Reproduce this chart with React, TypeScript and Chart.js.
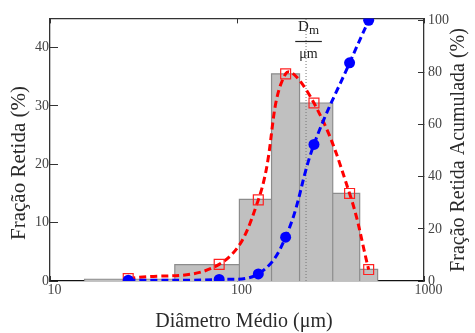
import React, { useEffect, useRef } from 'react';
import { Chart, registerables } from 'chart.js';

Chart.register(...registerables);

// Sieve bins (µm) and retained fraction per bin (%)
const binEdges = [15.3, 46.5, 103, 153, 216, 325, 453, 565];
const binHeights = [0.3, 2.8, 14.0, 35.5, 30.5, 15.0, 2.0];
// Mean diameters of each class (µm)
const meanDiameters = [26.2, 80.3, 130, 182, 258, 400, 506];
// Fração retida (%)
const fractionRetained = [0.4, 2.85, 13.9, 35.5, 30.5, 15.0, 1.96];
// Fração retida acumulada (%)
const cumulativeRetained = [0.3, 0.6, 2.7, 16.8, 52.4, 83.7, 100];
// Mean diameter Dm (µm)
const dmValue = 234;

const xTicks = [10, 100, 1000];
const leftTicks = [0, 10, 20, 30, 40];
const rightTicks = [0, 20, 40, 60, 80, 100];

const SERIF = '"Liberation Serif", "Times New Roman", serif';

const annotations = {
  id: 'annotations',
  afterDraw(chart: any) {
    const ctx = chart.ctx as CanvasRenderingContext2D;
    const xs = chart.scales.x;
    const px = xs.getPixelForValue(dmValue);
    const cx = px + 2.5;
    ctx.save();
    ctx.fillStyle = '#222';
    // D_m
    ctx.textBaseline = 'alphabetic';
    ctx.textAlign = 'left';
    ctx.font = `15px ${SERIF}`;
    const wD = ctx.measureText('D').width;
    ctx.font = `13px ${SERIF}`;
    const wm = ctx.measureText('m').width;
    const start = cx - (wD + wm) / 2;
    ctx.font = `15px ${SERIF}`;
    ctx.fillText('D', start, 30.5);
    ctx.font = `13px ${SERIF}`;
    ctx.fillText('m', start + wD, 34);
    // fraction bar
    ctx.strokeStyle = '#222';
    ctx.lineWidth = 1.2;
    ctx.beginPath();
    ctx.moveTo(cx - 13.3, 41.5);
    ctx.lineTo(cx + 13.3, 41.5);
    ctx.stroke();
    // µm
    ctx.textAlign = 'center';
    ctx.font = `14px ${SERIF}`;
    ctx.fillText('\u03bcm', cx, 57.5);

    // axis titles
    ctx.fillStyle = '#2a2a2a';
    ctx.textBaseline = 'middle';
    ctx.textAlign = 'center';
    ctx.font = `20px ${SERIF}`;
    ctx.fillText('Di\u00e2metro M\u00e9dio (\u03bcm)', 244, 321.5);

    ctx.save();
    ctx.translate(19, 163);
    ctx.rotate(-Math.PI / 2);
    ctx.font = `21px ${SERIF}`;
    ctx.fillText('Fra\u00e7\u00e3o Retida (%)', 0, 0);
    ctx.restore();

    ctx.save();
    ctx.translate(459, 150);
    ctx.rotate(-Math.PI / 2);
    ctx.font = `20px ${SERIF}`;
    ctx.fillText('Fra\u00e7\u00e3o Retida Acumulada (%)', 0, 0);
    ctx.restore();

    ctx.restore();
  },
};

export default function App() {
  const ref = useRef<HTMLCanvasElement | null>(null);

  useEffect(() => {
    if (!ref.current) return;
    const histPoints: { x: number; y: number }[] = [];
    binHeights.forEach((h, i) => {
      const a = binEdges[i];
      const b = binEdges[i + 1];
      histPoints.push({ x: a, y: 0 }, { x: a, y: h }, { x: b, y: h }, { x: b, y: 0 });
    });

    const tickFont = { family: SERIF, size: 14 };
    const axisColor = '#333';

    const chart = new Chart(ref.current, {
      type: 'line',
      data: {
        datasets: [
          {
            label: 'Acumulada',
            data: meanDiameters.map((x, i) => ({ x, y: cumulativeRetained[i] })),
            xAxisID: 'x',
            yAxisID: 'y2',
            borderColor: '#0000ff',
            borderWidth: 3,
            borderDash: [7, 4],
            tension: 0.4,
            fill: false,
            pointStyle: 'circle',
            pointRadius: 5.5,
            pointBackgroundColor: '#0000ff',
            pointBorderColor: '#0000ff',
            pointBorderWidth: 0,
            order: 1,
          },
          {
            label: 'Retida',
            data: meanDiameters.map((x, i) => ({ x, y: fractionRetained[i] })),
            xAxisID: 'x',
            yAxisID: 'y',
            borderColor: '#ff0000',
            borderWidth: 3,
            borderDash: [7, 4],
            tension: 0.4,
            fill: false,
            pointStyle: 'rect',
            pointRadius: 7,
            pointBackgroundColor: 'rgba(0,0,0,0)',
            pointBorderColor: '#ff2020',
            pointBorderWidth: 1.2,
            order: 2,
          },
          {
            label: 'Dm',
            data: [
              { x: dmValue, y: 0 },
              { x: dmValue, y: 45 },
            ],
            xAxisID: 'x',
            yAxisID: 'y',
            borderColor: '#777',
            borderWidth: 1,
            borderDash: [1, 2],
            pointRadius: 0,
            fill: false,
            tension: 0,
            order: 3,
          },
          {
            label: 'Histograma',
            data: histPoints,
            xAxisID: 'x',
            yAxisID: 'y',
            borderColor: '#8c8c8c',
            borderWidth: 1.2,
            backgroundColor: '#c0c0c0',
            fill: 'origin',
            pointRadius: 0,
            tension: 0,
            order: 4,
          },
        ],
      },
      options: {
        responsive: false,
        animation: false,
        events: [],
        layout: { padding: 0 },
        plugins: {
          legend: { display: false },
          tooltip: { enabled: false },
          title: { display: false },
        },
        scales: {
          x: {
            type: 'logarithmic',
            position: 'bottom',
            min: 10,
            max: 1000,
            afterBuildTicks: (s: any) => {
              s.ticks = xTicks.map((v) => ({ value: v }));
            },
            afterFit: (s: any) => {
              s.height = 52;
            },
            grid: { drawOnChartArea: false, tickLength: -5, tickColor: axisColor },
            border: { display: true, color: '#111', width: 1.3 },
            ticks: {
              font: tickFont,
              color: '#444',
              padding: 6,
              labelOffset: 4.5,
              maxRotation: 0,
              autoSkip: false,
              callback: (v: any) => String(v),
            },
          },
          xTop: {
            type: 'logarithmic',
            position: 'top',
            min: 10,
            max: 1000,
            afterBuildTicks: (s: any) => {
              s.ticks = xTicks.map((v) => ({ value: v }));
            },
            afterFit: (s: any) => {
              s.height = 13;
            },
            grid: { drawOnChartArea: false, tickLength: -5, tickColor: axisColor },
            border: { display: true, color: axisColor, width: 1.3 },
            ticks: { display: false },
          },
          y: {
            type: 'linear',
            position: 'left',
            min: 0,
            max: 45,
            afterBuildTicks: (s: any) => {
              s.ticks = leftTicks.map((v) => ({ value: v }));
            },
            afterFit: (s: any) => {
              s.width = 50;
            },
            grid: { drawOnChartArea: false, tickLength: -8, tickColor: axisColor },
            border: { display: true, color: axisColor, width: 1.3 },
            ticks: { font: tickFont, color: '#444', padding: 9 },
          },
          y2: {
            type: 'linear',
            position: 'right',
            min: 0,
            max: 100.75,
            afterBuildTicks: (s: any) => {
              s.ticks = rightTicks.map((v) => ({ value: v }));
            },
            afterFit: (s: any) => {
              s.width = 51;
            },
            grid: { drawOnChartArea: false, tickLength: -6, tickColor: axisColor },
            border: { display: true, color: axisColor, width: 1.3 },
            ticks: { font: tickFont, color: '#444', padding: 10 },
          },
        },
      },
      plugins: [annotations],
    } as any);

    return () => chart.destroy();
  }, []);

  return (
    <div style={{ position: 'absolute', left: 0, top: 0, width: 475, height: 333, background: '#fff' }}>
      <canvas ref={ref} width={475} height={333} style={{ display: 'block', width: 475, height: 333 }} />
    </div>
  );
}
